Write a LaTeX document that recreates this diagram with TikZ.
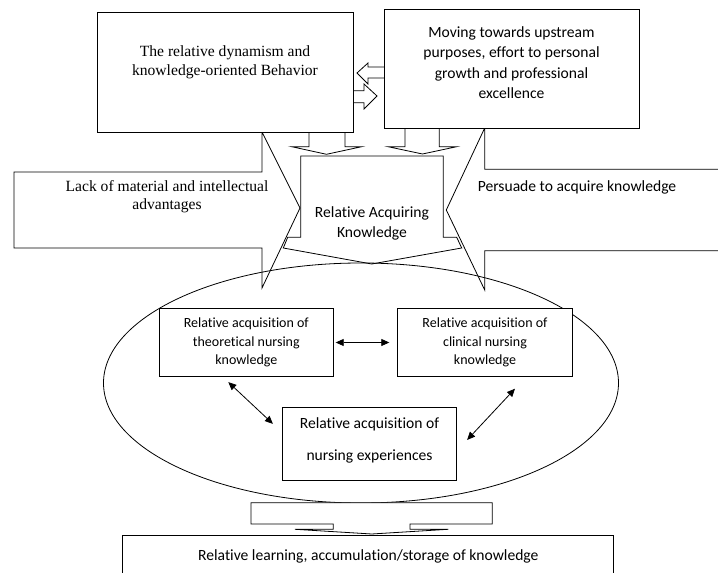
\documentclass[tikz,border=0pt]{standalone}
\usepackage{fontspec}
\setmainfont{Liberation Serif}
\newfontfamily\calfont[Ligatures=NoCommon]{Carlito}
\usepackage{tikz}
\usetikzlibrary{calc}
\usetikzlibrary{positioning}
\usetikzlibrary{arrows.meta}

\tikzset{
	box/.style={draw, fill=white, inner sep=2pt},
	outline/.style={draw, fill=white, line join=miter},
	serif/.style={align=center, font=\fontsize{15.6}{18.7}\selectfont},
	cal/.style={align=center, font=\calfont\fontsize{15.6}{20.3}\selectfont},
	calsmall/.style={align=center, font=\calfont\fontsize{14}{18.7}\selectfont},
	twoway/.style={{Triangle[length=8pt,width=7pt]}-{Triangle[length=8pt,width=7pt]}}
}

\begin{document}
\begin{tikzpicture}[x=1pt, y=1pt, line width=0.8pt]
				\useasboundingbox (0,0) rectangle (718,573);
				\clip (0,0) rectangle (718,573);

				\draw[outline] (300.7,417)--(443.3,417)--(443.3,335.7)--(456.7,335.7)--(461.7,325)--(371.7,309)--(283.3,325)--(287.7,335.7)--(300.7,335.7)--cycle;
				\node[cal] (acq) at (372,349.7) {Relative Acquiring\\Knowledge};

				\draw[outline] (14,401)--(262,401)--(262,441)--(300,365)--(262,285)--(262,325)--(14,325)--cycle;
				\node[serif, font=\fontsize{15.6}{17.5}\selectfont] (lack) at (167,376.5) {Lack of material and intellectual\\advantages};

				\draw[outline] (730,403.7)--(484.7,403.7)--(484.7,445)--(446.3,363)--(484.7,283)--(484.7,322.3)--(730,322.3)--cycle;
				\node[cal] (persuade) at (577,385.3) {Persuade to acquire knowledge};

				\draw[outline] (384,506)--(368,506)--(368,510)--(357,500)--(368,489)--(368,495)--(384,495);
				\draw[outline] (353,482.3)--(364,482.3)--(364,489)--(377,477)--(364,464)--(364,470.3)--(353,470.3);
				\draw[outline] (309,441)--(309,426.3)--(291.7,426.3)--(326.5,418.7)--(361.7,426.3)--(345,426.3)--(345,441);
				\draw[outline] (405,445)--(405,426.3)--(388,426.3)--(422.5,419)--(456.7,426.3)--(439.3,426.3)--(439.3,445);

				\node[box, minimum width=256pt, minimum height=120pt] (dynamism) at (225,501) {};
				\node[serif] (dynamismtext) at (225,510.5) {The relative dynamism and\\knowledge-oriented Behavior};
				\node[box, minimum width=255pt, minimum height=119pt] (upstream) at (511.5,504.5) {};
				\node[cal] (upstreamtext) at (511.5,510.5) {Moving towards upstream\\purposes, effort to personal\\growth and professional\\excellence};

				\draw (361,190) ellipse [x radius=257.5, y radius=120];

				\node[box, calsmall, minimum width=174pt, minimum height=68.4pt] (theory) at (246.3,230.5) {Relative acquisition of\\theoretical nursing\\knowledge};
				\node[box, calsmall, minimum width=174.6pt, minimum height=68.4pt] (clinic) at (485,230.5) {Relative acquisition of\\clinical nursing\\knowledge};
				\node[box, minimum width=174.4pt, minimum height=72.3pt] (exper) at (369.5,129.15) {};
				\node[cal, font=\calfont\fontsize{15.6}{32.4}\selectfont] (expertext) at (369.5,132.5) {Relative acquisition of\\nursing experiences};

				\draw[twoway, shorten <=2pt, shorten >=8pt] (theory)--(clinic);
				\draw[twoway] ([xshift=-18pt, yshift=-5pt]theory.south)--([xshift=-9pt, yshift=20pt]exper.west);
				\draw[twoway] ([xshift=30pt, yshift=-11.6pt]clinic.south)--([xshift=10pt, yshift=3.9pt]exper.east);

				\draw[outline] (251,70.3)--(492.3,70.3)--(492.3,49)--(410,49)--(410,43.7)--(448.3,43.7)--(371.7,39)--(295,43.7)--(333.3,43.7)--(333.3,49)--(251,49)--cycle;

				\node[box, minimum width=490.6pt, minimum height=80pt, anchor=north] (learning) at (368,38) {};
				\node[cal] (learningtext) at (368.3,16.3) {Relative learning, accumulation/storage of knowledge};

			\end{tikzpicture}
\end{document}
